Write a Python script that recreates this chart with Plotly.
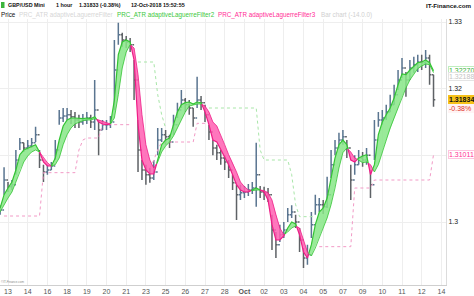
import plotly.graph_objects as go

# ---------------- data ----------------
tick_days = list(range(23))
tick_text = ["13", "14", "16", "18", "19", "20", "21", "23", "25", "26", "27", "28",
             "<b>Oct</b>", "02", "03", "04", "05", "07", "09", "10", "11", "12", "14"]

bar_start = -0.4   # trading-day index of the first sampled bar
bar_step = 0.2     # trading days per sampled bar

high = [1.3025, 1.3082, 1.3060, 1.3063, 1.3108, 1.3126, 1.3119, 1.3123, 1.3126, 1.3143,
        1.3108, 1.3086, 1.3086, 1.3090, 1.3123, 1.3168, 1.3171, 1.3171, 1.3168, 1.3165,
        1.3161, 1.3162, 1.3165, 1.3161, 1.3213, 1.3153, 1.3153, 1.3153, 1.3159, 1.3273,
        1.3299, 1.3284, 1.3279, 1.3276, 1.3243, 1.3153, 1.3093, 1.3086, 1.3081, 1.3093,
        1.3141, 1.3141, 1.3138, 1.3131, 1.3161, 1.3179, 1.3198, 1.3186, 1.3183, 1.3171,
        1.3218, 1.3189, 1.3176, 1.3146, 1.3123, 1.3116, 1.3108, 1.3100, 1.3093, 1.3071,
        1.3056, 1.3056, 1.3054, 1.3057, 1.3060, 1.3119, 1.3054, 1.3053, 1.3051, 1.3011,
        1.2985, 1.2996, 1.3000, 1.3021, 1.3025, 1.3011, 1.2991, 1.2961, 1.2966, 1.3015,
        1.3041, 1.3036, 1.3033, 1.3068, 1.3108, 1.3123, 1.3134, 1.3138, 1.3123, 1.3086,
        1.3100, 1.3108, 1.3105, 1.3111, 1.3078, 1.3153, 1.3165, 1.3168, 1.3176, 1.3191,
        1.3206, 1.3228, 1.3246, 1.3225, 1.3243, 1.3248, 1.3251, 1.3251, 1.3258, 1.3251,
        1.3221]
low = [1.3011, 1.3041, 1.3045, 1.3048, 1.3071, 1.3108, 1.3105, 1.3108, 1.3111, 1.3120,
       1.3081, 1.3060, 1.3071, 1.3078, 1.3093, 1.3146, 1.3150, 1.3153, 1.3147, 1.3141,
       1.3141, 1.3146, 1.3147, 1.3141, 1.3138, 1.3100, 1.3138, 1.3138, 1.3141, 1.3168,
       1.3266, 1.3263, 1.3261, 1.3255, 1.3183, 1.3075, 1.3063, 1.3056, 1.3059, 1.3063,
       1.3100, 1.3120, 1.3116, 1.3111, 1.3131, 1.3156, 1.3171, 1.3165, 1.3161, 1.3143,
       1.3171, 1.3168, 1.3150, 1.3123, 1.3100, 1.3093, 1.3086, 1.3078, 1.3066, 1.3048,
       1.3003, 1.3033, 1.3036, 1.3039, 1.3042, 1.3023, 1.3036, 1.3033, 1.3030, 1.2958,
       1.2946, 1.2970, 1.2976, 1.3000, 1.3006, 1.2991, 1.2955, 1.2931, 1.2936, 1.2976,
       1.3011, 1.3015, 1.3012, 1.3021, 1.3066, 1.3100, 1.3111, 1.3116, 1.3096, 1.3033,
       1.3071, 1.3086, 1.3083, 1.3086, 1.3036, 1.3093, 1.3143, 1.3146, 1.3153, 1.3165,
       1.3176, 1.3198, 1.3216, 1.3188, 1.3213, 1.3224, 1.3225, 1.3228, 1.3231, 1.3206,
       1.3173]
close = [1.3018, 1.3063, 1.3053, 1.3056, 1.3093, 1.3119, 1.3111, 1.3114, 1.3119, 1.3131,
         1.3093, 1.3075, 1.3078, 1.3084, 1.3108, 1.3156, 1.3159, 1.3161, 1.3158, 1.3153,
         1.3150, 1.3153, 1.3156, 1.3150, 1.3168, 1.3138, 1.3146, 1.3146, 1.3150, 1.3228,
         1.3281, 1.3273, 1.3270, 1.3266, 1.3213, 1.3108, 1.3078, 1.3071, 1.3066, 1.3075,
         1.3123, 1.3131, 1.3128, 1.3120, 1.3146, 1.3168, 1.3183, 1.3176, 1.3171, 1.3156,
         1.3183, 1.3179, 1.3161, 1.3135, 1.3111, 1.3104, 1.3096, 1.3090, 1.3078, 1.3059,
         1.3041, 1.3044, 1.3045, 1.3048, 1.3051, 1.3071, 1.3045, 1.3044, 1.3041, 1.2988,
         1.2966, 1.2981, 1.2988, 1.3011, 1.3015, 1.3000, 1.2973, 1.2946, 1.2951, 1.2996,
         1.3026, 1.3026, 1.3023, 1.3041, 1.3086, 1.3111, 1.3123, 1.3128, 1.3111, 1.3063,
         1.3086, 1.3096, 1.3093, 1.3100, 1.3056, 1.3123, 1.3153, 1.3156, 1.3165, 1.3176,
         1.3191, 1.3213, 1.3231, 1.3213, 1.3231, 1.3236, 1.3240, 1.3239, 1.3246, 1.3221,
         1.31834]

# adaptive Laguerre filter (fast / slow) - cloud edges
lag_fast = [1.3021, 1.3041, 1.3051, 1.3060, 1.3078, 1.3101, 1.3108, 1.3111, 1.3114, 1.3116,
            1.3105, 1.3090, 1.3084, 1.3084, 1.3096, 1.3123, 1.3144, 1.3153, 1.3156, 1.3156,
            1.3155, 1.3155, 1.3156, 1.3155, 1.3158, 1.3150, 1.3147, 1.3146, 1.3147, 1.3183,
            1.3251, 1.3270, 1.3273, 1.3270, 1.3243, 1.3146, 1.3093, 1.3078, 1.3072, 1.3072,
            1.3093, 1.3116, 1.3123, 1.3126, 1.3146, 1.3165, 1.3176, 1.3179, 1.3180, 1.3177,
            1.3180, 1.3179, 1.3165, 1.3146, 1.3123, 1.3120, 1.3108, 1.3096, 1.3086, 1.3071,
            1.3056, 1.3048, 1.3045, 1.3045, 1.3048, 1.3051, 1.3048, 1.3045, 1.3033, 1.2996,
            1.2973, 1.2973, 1.2979, 1.2991, 1.3000, 1.2997, 1.2981, 1.2955, 1.2946, 1.2966,
            1.2996, 1.3015, 1.3021, 1.3036, 1.3066, 1.3096, 1.3116, 1.3123, 1.3116, 1.3093,
            1.3090, 1.3096, 1.3099, 1.3101, 1.3071, 1.3086, 1.3131, 1.3150, 1.3161, 1.3171,
            1.3186, 1.3206, 1.3222, 1.3221, 1.3228, 1.3234, 1.3239, 1.3240, 1.3243, 1.3239,
            1.3227]
lag_slow = [1.3015, 1.3026, 1.3036, 1.3045, 1.3060, 1.3078, 1.3090, 1.3099, 1.3105, 1.3108,
            1.3105, 1.3096, 1.3089, 1.3084, 1.3086, 1.3096, 1.3116, 1.3131, 1.3141, 1.3147,
            1.3150, 1.3152, 1.3153, 1.3153, 1.3155, 1.3153, 1.3150, 1.3149, 1.3147, 1.3156,
            1.3191, 1.3231, 1.3255, 1.3266, 1.3261, 1.3221, 1.3161, 1.3116, 1.3093, 1.3081,
            1.3090, 1.3105, 1.3114, 1.3120, 1.3129, 1.3141, 1.3153, 1.3165, 1.3174, 1.3176,
            1.3177, 1.3177, 1.3174, 1.3165, 1.3150, 1.3144, 1.3131, 1.3116, 1.3101, 1.3089,
            1.3075, 1.3060, 1.3053, 1.3048, 1.3047, 1.3048, 1.3048, 1.3047, 1.3044, 1.3033,
            1.3011, 1.2991, 1.2981, 1.2985, 1.2991, 1.2994, 1.2991, 1.2973, 1.2955, 1.2949,
            1.2961, 1.2976, 1.2991, 1.3006, 1.3026, 1.3051, 1.3081, 1.3104, 1.3111, 1.3105,
            1.3096, 1.3093, 1.3089, 1.3090, 1.3086, 1.3075, 1.3086, 1.3105, 1.3123, 1.3141,
            1.3156, 1.3171, 1.3188, 1.3201, 1.3213, 1.3222, 1.3230, 1.3234, 1.3237, 1.3236,
            1.3224]

N = None
# trailing stop levels (dotted): support below price, resistance above price
support = ([N] + [1.3009] * 10 + [1.3074] * 9 + [1.3108, 1.3123] + [1.3126] * 4 +
           [1.3146] * 8 + [N] * 4 + [1.3081, 1.3093, 1.3108] + [1.3120] * 9 +
           [1.3148] * 4 + [N] * 27 + [1.2963] * 9 + [1.3051] * 5 + [1.3063] * 15 + [1.3101])
resistance = ([N] * 35 + [1.3240] * 5 + [1.3191, 1.3161, 1.3141] + [N] * 10 +
              [1.3171] * 13 + [1.3108] + [1.3093] * 7 + [1.3071, 1.3026] + [1.3008] * 5 +
              [N] * 30)

y_ticks = [1.30, 1.31, 1.32, 1.33]
y_tick_text = ["1.3", "", "1.32", "1.33"]

last_price = 1.31834
last_change = "-0.38%"
filt1_last = 1.32188
filt2_last = 1.32270
filt3_last = 1.31011

# ---------------- figure ----------------
n = len(close)
bar_x = [bar_start + bar_step * i for i in range(n)]
opens = [close[0]] + close[:-1]   # forex bars open at previous close

GREEN_FILL = "rgba(135,230,135,0.85)"
GREEN_LINE = "#34c434"
PINK_FILL = "rgba(255,95,178,0.85)"
PINK_LINE = "#ee1d86"

fig = go.Figure()

# dotted trailing levels
fig.add_trace(go.Scatter(x=bar_x, y=support, mode="lines", connectgaps=False,
                         line=dict(color="#f29ac6", width=1, dash="dot"), hoverinfo="skip"))
fig.add_trace(go.Scatter(x=bar_x, y=resistance, mode="lines", connectgaps=False,
                         line=dict(color="#a8e6a8", width=1, dash="dot"), hoverinfo="skip"))

# cloud between the two filters, split into trend runs
runs = []
cx, cf, cs = [bar_x[0]], [lag_fast[0]], [lag_slow[0]]
up = lag_fast[0] >= lag_slow[0]
for i in range(1, n):
    now_up = lag_fast[i] >= lag_slow[i]
    if now_up != up:
        d0 = lag_fast[i - 1] - lag_slow[i - 1]
        d1 = lag_fast[i] - lag_slow[i]
        t = d0 / (d0 - d1)
        xc = bar_x[i - 1] + t * (bar_x[i] - bar_x[i - 1])
        yc = lag_fast[i - 1] + t * (lag_fast[i] - lag_fast[i - 1])
        cx.append(xc); cf.append(yc); cs.append(yc)
        runs.append((up, cx, cf, cs))
        cx, cf, cs = [xc], [yc], [yc]
        up = now_up
    cx.append(bar_x[i]); cf.append(lag_fast[i]); cs.append(lag_slow[i])
runs.append((up, cx, cf, cs))

for is_up, rx, rf, rs in runs:
    fill = GREEN_FILL if is_up else PINK_FILL
    lc = GREEN_LINE if is_up else PINK_LINE
    fig.add_trace(go.Scatter(x=rx + rx[::-1], y=rf + rs[::-1], mode="lines", fill="toself",
                             fillcolor=fill, line=dict(width=0), hoverinfo="skip"))
    fig.add_trace(go.Scatter(x=rx, y=rs, mode="lines", line=dict(color=lc, width=0.8),
                             hoverinfo="skip"))
    fig.add_trace(go.Scatter(x=rx, y=rf, mode="lines", line=dict(color=lc, width=1.2),
                             hoverinfo="skip"))

# price bars
fig.add_trace(go.Ohlc(x=bar_x, open=opens, high=high, low=low, close=close,
                      increasing=dict(line=dict(color="#5a7590", width=1.5)),
                      decreasing=dict(line=dict(color="#5e6266", width=1.5)),
                      tickwidth=0.45, hoverinfo="skip"))

PLOT_W, PLOT_TOP, PLOT_BOT = 446, 19, 285


def ax(px):
    return px / PLOT_W


def ay(py):
    return (PLOT_BOT - py) / (PLOT_BOT - PLOT_TOP)


SANS = "Liberation Sans, Arial, sans-serif"
ann = []
for txt, px in [("GBP/USD Mini", 7), ("1 hour", 55), ("1.31833 (-0.38%)", 78),
                ("12-Oct-2018 15:52:55", 130)]:
    ann.append(dict(text="<b>%s</b>" % txt, x=ax(px), y=ay(5), xref="paper", yref="paper",
                    xanchor="left", yanchor="middle", showarrow=False, borderpad=0,
                    font=dict(family=SANS, size=5.4, color="#111")))
ann.append(dict(text="<b>IT-Finance.com</b>", x=ax(473), y=ay(5), xref="paper", yref="paper",
                xanchor="right", yanchor="middle", showarrow=False, borderpad=0,
                font=dict(family=SANS, size=6.2, color="#111")))
for txt, px, col in [("Price", 0, "#111"), ("PRC_ATR adaptiveLaguerreFilter", 18, "#d6d6d6"),
                     ("PRC_ATR adaptiveLaguerreFilter2", 116, "#3cc83c"),
                     ("PRC_ATR adaptiveLaguerreFilter3", 217, "#ff2d95"),
                     ("Bar chart (-14.0.0)", 320, "#d0d0d0")]:
    ann.append(dict(text=txt, x=ax(px), y=ay(15), xref="paper", yref="paper",
                    xanchor="left", yanchor="middle", showarrow=False, borderpad=0,
                    font=dict(family=SANS, size=6.3, color=col)))

# right-hand value tags
for txt, yv, col, bg, bd, bold in [
        ("%.5f" % filt2_last, filt2_last, "#39b039", "#ffffff", "#bfeebf", False),
        ("%.5f" % filt1_last, filt1_last, "#c4c4c4", "#ffffff", "#e4e4e4", False),
        ("%.5f" % last_price, last_price, "#111111", "#f6c21a", "#f6c21a", True),
        (last_change, 1.3170, "#e0302a", "#fff4f4", "#fff4f4", False),
        ("%.5f" % filt3_last, filt3_last, "#ff2d95", "#ffffff", "#ffc4e0", False)]:
    ann.append(dict(text=("<b>%s</b>" % txt) if bold else txt, x=ax(448), y=yv,
                    xref="paper", yref="y", xanchor="left", yanchor="middle",
                    showarrow=False, bgcolor=bg, bordercolor=bd, borderwidth=1, borderpad=0,
                    width=25, align="left", font=dict(family=SANS, size=7, color=col)))

ann.append(dict(text="©IT-Finance.com", x=ax(0), y=ay(282), xref="paper", yref="paper",
                xanchor="left", yanchor="middle", showarrow=False, borderpad=0,
                font=dict(family=SANS, size=3, color="#888")))

fig.update_layout(
    width=474, height=296,
    margin=dict(l=0, r=474 - PLOT_W, t=PLOT_TOP, b=296 - PLOT_BOT),
    paper_bgcolor="white", plot_bgcolor="white",
    showlegend=False,
    annotations=ann,
    shapes=[dict(type="rect", xref="paper", yref="paper", x0=ax(1), x1=ax(4.5),
                 y0=ay(8), y1=ay(2), fillcolor="#3cb43c", line=dict(width=0))],
    xaxis=dict(range=[bar_start - 0.006, (PLOT_W - 8) / 19.7], tickvals=tick_days,
               ticktext=tick_text, showgrid=True, gridcolor="#eeeeee", gridwidth=1,
               showline=True, linecolor="#cfcfcf", linewidth=1, ticks="", zeroline=False,
               rangeslider=dict(visible=False), tickfont=dict(family=SANS, size=7, color="#555")),
    yaxis=dict(side="right", range=[1.29055, 1.33045], tickvals=y_ticks, ticktext=y_tick_text,
               showgrid=True, gridcolor="#eeeeee", gridwidth=1, showline=True,
               linecolor="#dcdcdc", ticks="", zeroline=False,
               tickfont=dict(family=SANS, size=7, color="#222")),
)

fig.write_html("out.html", config={"displayModeBar": False})
